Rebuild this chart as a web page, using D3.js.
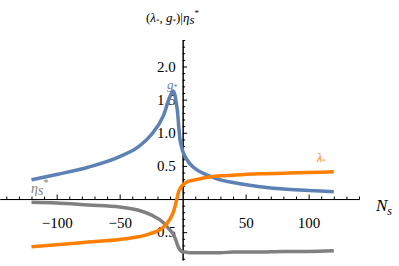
<!DOCTYPE html>
<html>
<head>
<meta charset="utf-8">
<script src="https://cdn.jsdelivr.net/npm/d3@7"></script>
<style>
  body { margin: 0; background: #fff; }
</style>
</head>
<body>
<svg id="chart" width="399" height="266"></svg>
<script>
const Ns = [-120, -100, -75, -50, -35, -25, -15, -10, -7.5, -6, -5, -4, -3, -2, -1, 0,
  2, 5, 10, 15, 20, 30, 40, 60, 80, 100, 120];
const gStar = [0.29, 0.37, 0.48, 0.64, 0.79, 0.97, 1.27, 1.55, 1.63, 1.56, 1.44, 1.30, 1.07, 0.88, 0.80, 0.73,
  0.64, 0.55, 0.46, 0.40, 0.36, 0.29, 0.25, 0.19, 0.15, 0.13, 0.11];
const lambdaStar = [-0.72, -0.69, -0.65, -0.61, -0.57, -0.52, -0.42, -0.30, -0.20, -0.11, -0.03, 0.05, 0.12, 0.16, 0.19, 0.21,
  0.24, 0.27, 0.29, 0.31, 0.33, 0.35, 0.36, 0.38, 0.39, 0.40, 0.41];
const etaStar = [-0.05, -0.06, -0.09, -0.12, -0.17, -0.24, -0.36, -0.47, -0.53, -0.59, -0.64, -0.70, -0.74, -0.77, -0.79, -0.80,
  -0.80, -0.81, -0.81, -0.81, -0.81, -0.81, -0.80, -0.80, -0.79, -0.79, -0.78];

const xTickLabels = [-100, -50, 50, 100];
const yTickLabels = [-0.5, 0.5, 1.0, 1.5, 2.0];

const SERIF = "'Liberation Serif', 'DejaVu Serif', serif";

const svg = d3.select("#chart");

const x = d3.scaleLinear().domain([-145, 140]).range([0, 359]);
const y = d3.scaleLinear().domain([-0.92, 2.4]).range([260, 40]);

// minor ticks
const xMinor = d3.range(-140, 141, 10).filter(d => d % 50 !== 0);
const yMinor = d3.range(-9, 25, 1).map(d => d / 10).filter(d => Math.round(d * 10) % 5 !== 0);

const xAxisMinor = d3.axisBottom(x).tickValues(xMinor).tickSizeInner(-2.5).tickSizeOuter(0).tickFormat("");
const xAxis = d3.axisBottom(x).tickValues(xTickLabels).tickSizeInner(-4.5).tickSizeOuter(0)
  .tickPadding(18).tickFormat(d3.format(""));
const yAxisMinor = d3.axisLeft(y).tickValues(yMinor).tickSizeInner(-2.5).tickSizeOuter(0).tickFormat("");
const yAxis = d3.axisLeft(y).tickValues(yTickLabels).tickSizeInner(-4.5).tickSizeOuter(0)
  .tickPadding(7).tickFormat(d3.format(".1f"));

function styleAxis(g) {
  g.attr("font-family", SERIF);
  g.selectAll("path, line").attr("stroke", "#000").attr("stroke-width", 1);
  g.selectAll("text").attr("font-size", 15).attr("fill", "#000")
    .attr("font-family", SERIF);
}

svg.append("g").attr("transform", `translate(0,${y(0)})`).call(xAxisMinor).call(styleAxis);
svg.append("g").attr("transform", `translate(0,${y(0)})`).call(xAxis).call(styleAxis);
svg.append("g").attr("transform", `translate(${x(0)},0)`).call(yAxisMinor).call(styleAxis);
svg.append("g").attr("transform", `translate(${x(0)},0)`).call(yAxis).call(styleAxis);

const series = [
  { values: etaStar, color: "#808080" },
  { values: gStar, color: "#5e81b5" },
  { values: lambdaStar, color: "#ff8000" }
];

const line = d3.line()
  .x(d => x(d[0]))
  .y(d => y(d[1]))
  .curve(d3.curveMonotoneX);

series.forEach(s => {
  svg.append("path")
    .datum(Ns.map((n, i) => [n, s.values[i]]))
    .attr("fill", "none")
    .attr("stroke", s.color)
    .attr("stroke-width", 3.5)
    .attr("d", line);
});

// curve labels
function mathLabel(px, py, size, color, parts) {
  const t = svg.append("text").attr("x", px).attr("y", py)
    .attr("font-family", SERIF)
    .attr("font-size", size).attr("fill", color);
  parts.forEach(p => {
    t.append("tspan")
      .attr("font-style", p.italic ? "italic" : "normal")
      .attr("font-size", p.size || size)
      .attr("dy", p.dy || 0)
      .text(p.t);
  });
  return t;
}

mathLabel(167, 89, 13, "#5e81b5", [
  { t: "g", italic: true }, { t: "*", size: 8, dy: 1 }
]);
mathLabel(317, 162, 12, "#ff8000", [
  { t: "λ", italic: true }, { t: "*", size: 7, dy: 1 }
]);
mathLabel(31, 193, 14, "#808080", [
  { t: "η", italic: true }, { t: "s", italic: true, dy: 2 }, { t: "*", size: 10, dy: -9 }
]);
mathLabel(376, 211, 17, "#000", [
  { t: "N", italic: true }, { t: "s", italic: true, size: 12, dy: 4 }
]);

// plot title
mathLabel(146, 22, 13, "#000", [
  { t: "(" }, { t: "λ", italic: true }, { t: "*", size: 7, dy: 1 },
  { t: ", ", dy: -1 }, { t: "g", italic: true }, { t: "*", size: 7, dy: 1 },
  { t: ")|", dy: -1 }, { t: "η", italic: true }, { t: "s", italic: true, dy: 2 },
  { t: "*", size: 9, dy: -8 }
]);
</script>
</body>
</html>
